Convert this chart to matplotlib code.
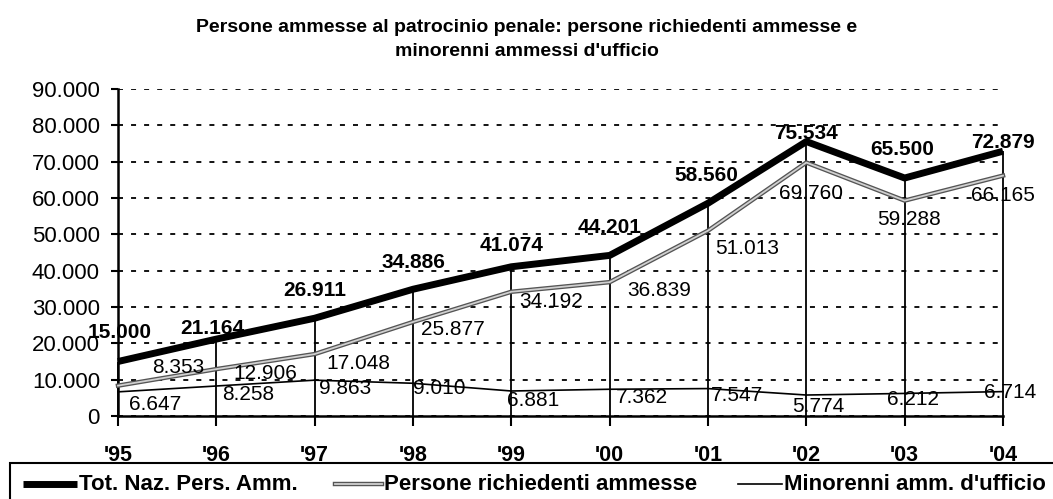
import matplotlib
matplotlib.use("Agg")
import matplotlib.pyplot as plt
import matplotlib.patheffects as pe
from matplotlib.lines import Line2D
from matplotlib.patches import Rectangle
from matplotlib.ticker import FuncFormatter

plt.rcParams['font.family'] = ['Liberation Sans', 'DejaVu Sans']
plt.rcParams['lines.scale_dashes'] = False

# dati
anni = ["'95", "'96", "'97", "'98", "'99", "'00", "'01", "'02", "'03", "'04"]
totale = [15000, 21164, 26911, 34886, 41074, 44201, 58560, 75534, 65500, 72879]
richiedenti = [8353, 12906, 17048, 25877, 34192, 36839, 51013, 69760, 59288, 66165]
minorenni = [6647, 8258, 9863, 9010, 6881, 7362, 7547, 5774, 6212, 6714]

# spostamento etichette (pixel, x a destra / y verso il basso)
off_tot = [(2, -29), (-4, -11), (0, -28), (0, -27), (0, -21), (0, -28), (-2, -28), (0, -8), (-2, -29), (0, -9)]
off_ric = [(60, -18), (49, 4), (44, 9), (40, 8), (40, 10), (50, 8), (39, 18), (5, 31), (4, 19), (0, 20)]
off_min = [(37, 13), (32, 9), (30, 8), (26, 5), (22, 10), (32, 8), (29, 7), (12, 11), (8, 6), (7, 1)]


def fmt(v):
    return f"{v:,.0f}".replace(",", ".")


W, H = 1053, 499
fig = plt.figure(figsize=(W / 100, H / 100), dpi=100)
ax = fig.add_axes([118 / W, 1 - 416 / H, (1003 - 118) / W, (416 - 89) / H])

x = list(range(len(anni)))
stile_ric = dict(color='#d0d0d0', lw=1.3,
                 path_effects=[pe.Stroke(linewidth=3.2, foreground='#555555'), pe.Normal()])

ax.vlines(x, 0, totale, color='black', lw=1.3, zorder=2, clip_on=False)
ax.plot(x, minorenni, color='black', lw=1.2, zorder=3, clip_on=False)
ax.plot(x, richiedenti, zorder=4, clip_on=False, **stile_ric)
ax.plot(x, totale, color='black', lw=5, zorder=5, solid_capstyle='butt', clip_on=False)

for i in x:
    ax.annotate(fmt(totale[i]), (i, totale[i]), xytext=(off_tot[i][0], -off_tot[i][1]),
                textcoords='offset pixels', ha='center', va='center',
                fontsize=15, fontweight='bold', zorder=6)
    ax.annotate(fmt(richiedenti[i]), (i, richiedenti[i]), xytext=(off_ric[i][0], -off_ric[i][1]),
                textcoords='offset pixels', ha='center', va='center', fontsize=15, zorder=6)
    ax.annotate(fmt(minorenni[i]), (i, minorenni[i]), xytext=(off_min[i][0], -off_min[i][1]),
                textcoords='offset pixels', ha='center', va='center', fontsize=15, zorder=6)

ax.set_xlim(0, 9)
ax.set_ylim(0, 90000)
ax.set_yticks(range(0, 90001, 10000))
ax.yaxis.set_major_formatter(FuncFormatter(lambda v, p: fmt(v)))
ax.set_xticks(x)
ax.set_xticklabels(anni, fontweight='bold')
ax.tick_params(axis='y', direction='out', length=5, width=1.5, pad=8, labelsize=16)
ax.tick_params(axis='x', direction='out', length=7, width=1.5, pad=14, labelsize=15.5)
ax.yaxis.grid(True, color='black', lw=1.3, linestyle=(0, (3.6, 5.8)))
ax.set_axisbelow(True)
for s in ['top', 'right']:
    ax.spines[s].set_visible(False)
for s in ['left', 'bottom']:
    ax.spines[s].set_linewidth(1.8)

fig.text(0.5, 1 - 27 / H, "Persone ammesse al patrocinio penale: persone richiedenti ammesse e",
         ha='center', va='center', fontsize=14, fontweight='bold')
fig.text(0.5, 1 - 52 / H, "minorenni ammessi d'ufficio",
         ha='center', va='center', fontsize=14, fontweight='bold')

# legenda disegnata a mano
fig.add_artist(Rectangle((10 / W, -0.05), 1.1, 1 - 463 / H + 0.05, transform=fig.transFigure,
                         fill=False, edgecolor='black', lw=1.5))
ly = 1 - 484 / H
voci = [
    ("Tot. Naz. Pers. Amm.", 23, 77, dict(color='black', lw=5, solid_capstyle='butt')),
    ("Persone richiedenti ammesse", 335, 382, stile_ric),
    ("Minorenni amm. d'ufficio", 738, 782, dict(color='black', lw=1.2)),
]
for testo, x0, x1, stile in voci:
    fig.add_artist(Line2D([x0 / W, x1 / W], [ly, ly], transform=fig.transFigure, **stile))
    fig.text((x1 + 2) / W, ly, testo, ha='left', va='center', fontsize=16, fontweight='bold')

fig.savefig("out.png", dpi=100)
